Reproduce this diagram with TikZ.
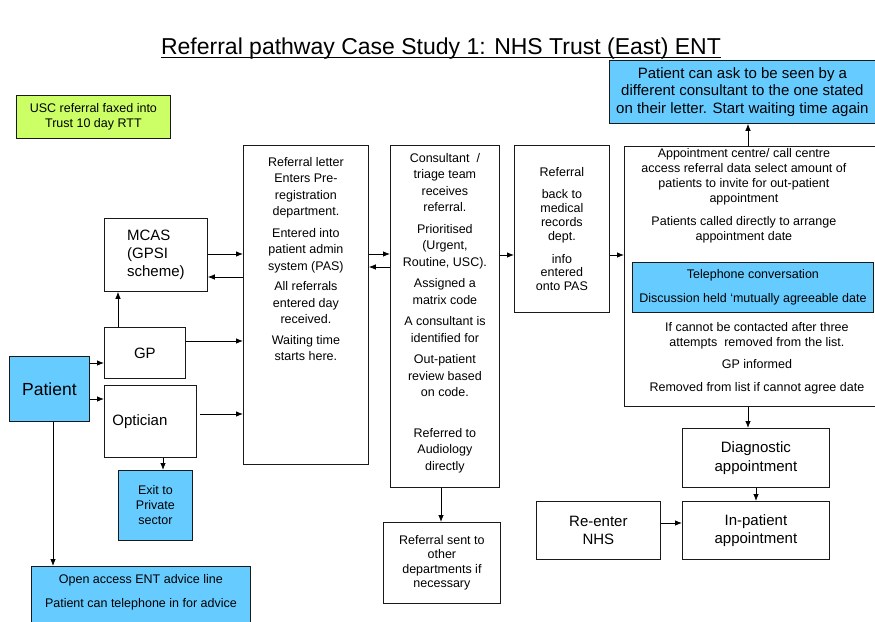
\documentclass[tikz,border=0pt]{standalone}
\usepackage{fontspec}
\setmainfont{Liberation Sans}
\usepackage{tikz}
\usetikzlibrary{positioning,arrows.meta}

\definecolor{skyfill}{RGB}{102,204,255}
\definecolor{limefill}{RGB}{204,255,102}

\begin{document}
\begin{tikzpicture}[
    x=1pt, y=-1pt,
    >={Latex[length=7pt,width=5.5pt]},
    box/.style={rectangle, draw=black!90, line width=0.8pt, inner sep=0pt,
      anchor=north west, align=center},
    patientbox/.style={box, fill=skyfill},
    faxbox/.style={box, fill=limefill},
    txt/.style={inner sep=0pt, align=center},
    body/.style={font=\fontsize{12.5}{15}\selectfont},
    tall/.style={font=\fontsize{12.5}{16.5}\selectfont},
    big/.style={font=\fontsize{15}{18}\selectfont},
    flow/.style={->, line width=0.8pt, black},
  ]

  \useasboundingbox (0,0) rectangle (875,621);

  % title
  \node (title)     [inner sep=0pt, font=\fontsize{23}{27}\selectfont] at (441,49)
                    {Referral pathway Case Study 1: NHS Trust (East) ENT};
  \draw[line width=1pt] ([yshift=-2.5pt]title.base west) -- ([yshift=-2.5pt]title.base east);

  % patient side
  \node (usc)       [faxbox, body, minimum width=154, minimum height=43] at (16,95)
                    {USC referral faxed into\\Trust 10 day RTT};
  \node (mcas)      [box, big, align=left, minimum width=103, minimum height=73] at (104,218)
                    {MCAS\\(GPSI\\scheme)};
  \node (gp)        [box, big, minimum width=81, minimum height=51] at (104,327) {GP};
  \node (patient)   [patientbox, font=\fontsize{17.5}{21}\selectfont,
                     minimum width=80, minimum height=65] at (9,356) {Patient};
  \node (optician)  [box, big, align=left, text width=76, inner xsep=8pt,
                     minimum height=72] at (104,385) {Optician};
  \node (exit)      [patientbox, body, minimum width=74, minimum height=70] at (118,470)
                    {Exit to\\Private\\sector};
  \node (advice)    [patientbox, minimum width=219, minimum height=60] at (31,566) {};
  \node (advicetxt) [txt, body, below=8pt of advice.north]
                    {Open access ENT advice line\\[9pt]Patient can telephone in for advice};

  % hospital pipeline
  \node (letter)    [box, minimum width=125, minimum height=319] at (243,145) {};
  \node (lettertxt) [txt, tall, below=12pt of letter.north]
                    {Referral letter\\Enters Pre-\\registration\\department.\\[5pt]Entered into\\patient admin\\system (PAS)\\[4pt]All referrals\\entered day\\received.\\[4pt]Waiting time\\starts here.};

  \node (consultant)    [box, minimum width=109, minimum height=342] at (390,145) {};
  \node (consultanttxt) [txt, tall, below=8pt of consultant.north]
                    {Consultant~ /\\triage team\\receives\\referral.\\[5pt]Prioritised\\(Urgent,\\Routine, USC).\\[5pt]Assigned a\\matrix code\\[5pt]A consultant is\\identified for\\[5pt]Out-patient\\review based\\on code.\\[24pt]Referred to\\Audiology\\directly};

  \node (sent)      [box, font=\fontsize{12.5}{14.5}\selectfont, minimum width=117, minimum height=81] at (383,522)
                    {Referral sent to\\other\\departments if\\necessary};

  \node (records)   [box, font=\fontsize{12.5}{13.8}\selectfont, minimum width=95, minimum height=167] at (514,145)
                    {Referral\\[9pt]back to\\medical\\records\\dept.\\[9pt]info\\entered\\onto PAS};

  % appointments
  \node (appt)      [box, minimum width=251, minimum height=260] at (624,146) {};
  \node (appttxt)   [txt, body, below=2pt of appt.north, xshift=-6pt]
                    {Appointment centre/ call centre\\access referral data select amount of\\patients to invite for out-patient\\appointment\\[8pt]Patients called directly to arrange\\appointment date};
  \node (phone)     [patientbox, body, minimum width=241, minimum height=50] at (632,262)
                    {Telephone conversation\\[9pt]Discussion held `mutually agreeable date};
  \node (apptnote)  [txt, body, below=9pt of phone.south, xshift=4pt]
                    {If cannot be contacted after three\\attempts~ removed from the list.\\[7pt]GP informed\\[8pt]Removed from list if cannot agree date};

  \node (change)    [patientbox, font=\fontsize{15}{17.5}\selectfont,
                     minimum width=266, minimum height=63] at (609,60)
                    {Patient can ask to be seen by a\\different consultant to the one stated\\on their letter. Start waiting time again};

  \node (diag)      [box, font=\fontsize{15}{18.5}\selectfont, minimum width=147, minimum height=59] at (682,428)
                    {Diagnostic\\appointment};
  \node (inpat)     [box, font=\fontsize{15}{18.5}\selectfont, minimum width=147, minimum height=58] at (682,501)
                    {In-patient\\appointment};
  \node (reenter)   [box, font=\fontsize{15}{18.5}\selectfont, minimum width=124, minimum height=58] at (536,501)
                    {Re-enter\\NHS};

  % flow
  \draw[flow] ([yshift=-7pt]patient.north east) -- ([yshift=-7pt]patient.north east -| gp.west);
  \draw[flow] ([yshift=-43pt]patient.north east) -- ([yshift=-43pt]patient.north east -| optician.west);
  \draw[flow] ([xshift=44pt]patient.south west) -- ([xshift=44pt]patient.south west |- advice.north);
  \draw[flow] ([xshift=14pt]gp.north west) -- ([xshift=14pt]gp.north west |- mcas.south);
  \draw[flow] ([yshift=-14pt]gp.north east) -- ([yshift=-14pt]gp.north east -| letter.west);
  \draw[flow] ([yshift=-36pt]mcas.north east) -- ([yshift=-36pt]mcas.north east -| letter.west);
  \draw[flow] ([yshift=-59pt]mcas.north east -| letter.west) -- ([yshift=-59pt]mcas.north east);
  \draw[flow] ([xshift=3pt, yshift=-29pt]optician.north east) -- ([yshift=-29pt]optician.north east -| letter.west);
  \draw[flow] ([xshift=59pt]optician.south west) -- ([xshift=59pt]optician.south west |- exit.north);

  \draw[flow] ([yshift=-109pt]letter.north east) -- ([yshift=-109pt]letter.north east -| consultant.west);
  \draw[flow] ([yshift=-122pt]consultant.north west) -- ([yshift=-122pt]consultant.north west -| letter.east);
  \draw[flow] ([yshift=-110pt]consultant.north east) -- ([yshift=-110pt]consultant.north east -| records.west);
  \draw[flow] ([xshift=51pt]consultant.south west) -- ([xshift=51pt]consultant.south west |- sent.north);
  \draw[flow] ([yshift=-110pt]records.north east) -- ([yshift=-110pt]records.north east -| appt.west);

  \draw[flow] ([xshift=124pt]appt.north west) -- ([xshift=124pt]appt.north west |- change.south);
  \draw[flow] ([xshift=124pt]appt.south west) -- ([xshift=124pt]appt.south west |- diag.north);
  \draw[flow] ([xshift=74pt]diag.south west) -- ([xshift=74pt]diag.south west |- inpat.north);
  \draw[flow] ([yshift=-22pt]reenter.north east) -- ([yshift=-22pt]reenter.north east -| inpat.west);

\end{tikzpicture}
\end{document}
